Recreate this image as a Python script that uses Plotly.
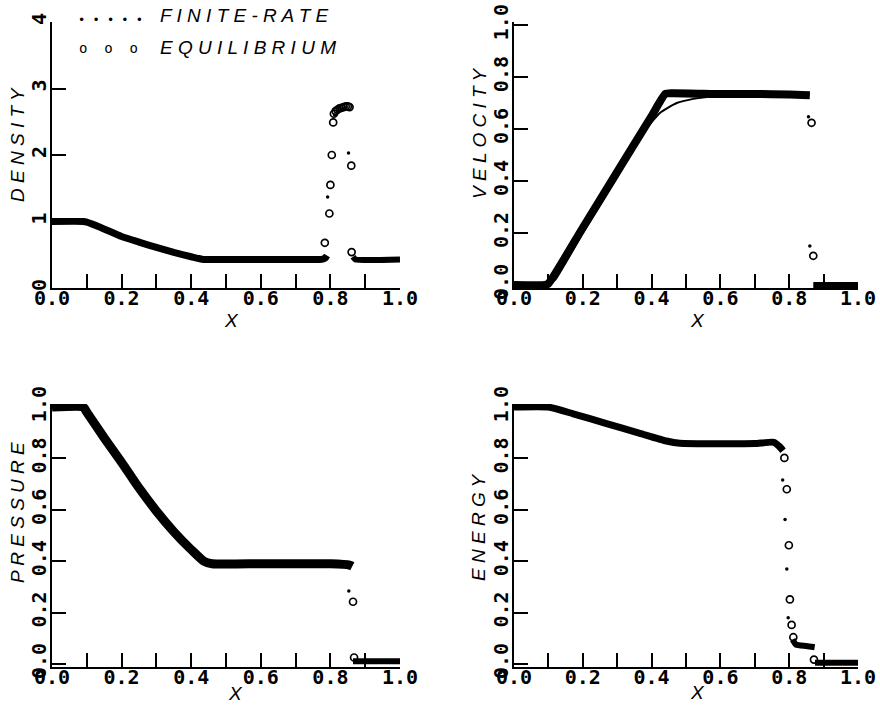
import plotly.graph_objects as go

# ---------------- data ----------------
# DENSITY
dens_band_x = [0.0, 0.09, 0.10, 0.14, 0.20, 0.25, 0.30, 0.35, 0.40, 0.435, 0.50, 0.60, 0.70, 0.775, 0.785, 0.79]
dens_band_y = [1.0, 1.0, 0.99, 0.91, 0.775, 0.69, 0.61, 0.535, 0.47, 0.43, 0.43, 0.43, 0.43, 0.43, 0.45, 0.49]
dens_post_x = [0.865, 0.872, 1.0]
dens_post_y = [0.47, 0.43, 0.43]
dens_eq_x = [0.784, 0.797, 0.800, 0.804, 0.808, 0.810, 0.815, 0.820, 0.826, 0.832, 0.838, 0.844, 0.850, 0.855, 0.860, 0.861]
dens_eq_y = [0.68, 1.12, 1.55, 2.00, 2.49, 2.62, 2.66, 2.68, 2.70, 2.71, 2.72, 2.73, 2.73, 2.72, 1.84, 0.54]
dens_fr_x = [0.792, 0.812, 0.820, 0.830, 0.840, 0.852]
dens_fr_y = [1.37, 2.60, 2.66, 2.69, 2.70, 2.03]

# VELOCITY
vel_band_x = [0.0, 0.09, 0.10, 0.20, 0.30, 0.40, 0.44, 0.46, 0.60, 0.70, 0.80, 0.86]
vel_band_y = [0.0, 0.0, 0.005, 0.22, 0.435, 0.65, 0.735, 0.738, 0.735, 0.735, 0.733, 0.73]
vel_fr_line_x = [0.10, 0.12, 0.20, 0.30, 0.376, 0.424, 0.473, 0.521, 0.57, 0.62, 0.86]
vel_fr_line_y = [0.0, 0.02, 0.20, 0.415, 0.586, 0.662, 0.70, 0.716, 0.725, 0.733, 0.733]
vel_post_x = [0.87, 1.0]
vel_post_y = [0.0, 0.0]
vel_eq_x = [0.865, 0.870]
vel_eq_y = [0.624, 0.112]
vel_fr_x = [0.856, 0.860]
vel_fr_y = [0.647, 0.150]

# PRESSURE
pres_band_x = [0.0, 0.09, 0.10, 0.15, 0.20, 0.25, 0.30, 0.35, 0.40, 0.436, 0.46, 0.60, 0.80, 0.855, 0.863]
pres_band_y = [1.0, 1.0, 0.98, 0.88, 0.785, 0.685, 0.595, 0.515, 0.445, 0.40, 0.39, 0.39, 0.39, 0.385, 0.38]
pres_post_x = [0.865, 1.0]
pres_post_y = [0.01, 0.01]
pres_eq_x = [0.865, 0.868]
pres_eq_y = [0.242, 0.025]
pres_fr_x = [0.853]
pres_fr_y = [0.284]

# ENERGY
ener_band_x = [0.0, 0.10, 0.172, 0.269, 0.366, 0.443, 0.482, 0.60, 0.70, 0.755, 0.772, 0.782]
ener_band_y = [1.0, 1.0, 0.974, 0.936, 0.898, 0.868, 0.859, 0.857, 0.858, 0.863, 0.846, 0.83]
ener_mid_x = [0.81, 0.82, 0.85, 0.874]
ener_mid_y = [0.095, 0.075, 0.07, 0.065]
ener_post_x = [0.875, 1.0]
ener_post_y = [0.005, 0.005]
ener_eq_x = [0.786, 0.793, 0.799, 0.802, 0.807, 0.812, 0.872]
ener_eq_y = [0.802, 0.68, 0.462, 0.251, 0.152, 0.104, 0.017]
ener_fr_x = [0.781, 0.788, 0.793, 0.797]
ener_fr_y = [0.716, 0.562, 0.37, 0.18]

# ticks / labels
x_ticks = [0.0, 0.1, 0.2, 0.3, 0.4, 0.5, 0.6, 0.7, 0.8, 0.9, 1.0]
x_tick_labels = ["0.0", "", "0.2", "", "0.4", "", "0.6", "", "0.8", "", "1.0"]
dens_ticks = [0, 1, 2, 3, 4]
dens_tick_labels = ["0", "1", "2", "3", "4"]
unit_ticks = [0.0, 0.2, 0.4, 0.6, 0.8, 1.0]
unit_tick_labels = ["0.0", "0.2", "0.4", "0.6", "0.8", "1.0"]
y_titles = ["DENSITY", "VELOCITY", "PRESSURE", "ENERGY"]
x_title = "X"
legend_labels = ["FINITE-RATE", "EQUILIBRIUM"]

# ---------------- figure ----------------
W, H = 880, 706
fig = go.Figure()

BLACK = "black"


def add_panel(n, bands, eq, fr, thin=None):
    xa = "x" if n == 1 else f"x{n}"
    ya = "y" if n == 1 else f"y{n}"
    for (bx, by, w) in bands:
        fig.add_trace(go.Scatter(x=bx, y=by, mode="lines", xaxis=xa, yaxis=ya,
                                 line=dict(color=BLACK, width=w, shape="spline",
                                           smoothing=0.5),
                                 showlegend=False, hoverinfo="skip"))
    if thin is not None:
        fig.add_trace(go.Scatter(x=thin[0], y=thin[1], mode="lines", xaxis=xa, yaxis=ya,
                                 line=dict(color=BLACK, width=2, shape="spline",
                                           smoothing=0.5),
                                 showlegend=False, hoverinfo="skip"))
    fig.add_trace(go.Scatter(x=eq[0], y=eq[1], mode="markers", xaxis=xa, yaxis=ya,
                             marker=dict(symbol="circle-open", size=7, color=BLACK,
                                         line=dict(width=1.7, color=BLACK)),
                             showlegend=False, cliponaxis=False, hoverinfo="skip"))
    fig.add_trace(go.Scatter(x=fr[0], y=fr[1], mode="markers", xaxis=xa, yaxis=ya,
                             marker=dict(symbol="circle", size=3.5, color=BLACK),
                             showlegend=False, cliponaxis=False, hoverinfo="skip"))


add_panel(1, [(dens_band_x, dens_band_y, 7), (dens_post_x, dens_post_y, 6)],
          (dens_eq_x, dens_eq_y), (dens_fr_x, dens_fr_y))
add_panel(2, [(vel_band_x, vel_band_y, 8), (vel_post_x, vel_post_y, 6)],
          (vel_eq_x, vel_eq_y), (vel_fr_x, vel_fr_y), thin=(vel_fr_line_x, vel_fr_line_y))
add_panel(3, [(pres_band_x, pres_band_y, 9), (pres_post_x, pres_post_y, 6)],
          (pres_eq_x, pres_eq_y), (pres_fr_x, pres_fr_y))
add_panel(4, [(ener_band_x, ener_band_y, 7), (ener_mid_x, ener_mid_y, 6),
              (ener_post_x, ener_post_y, 6)],
          (ener_eq_x, ener_eq_y), (ener_fr_x, ener_fr_y))

tick_font = dict(family="DejaVu Sans Mono", size=20, color=BLACK, weight="bold")


def px_x(a, b):
    return [a / W, b / W]


def px_y(bottom, top):
    return [(H - bottom) / H, (H - top) / H]


left_dom = px_x(52, 400)
right_dom = px_x(514, 858)
top_dom = px_y(288, 22)
bot_dom = px_y(667, 404)

common_x = dict(range=[0, 1.0], tickvals=x_ticks, ticktext=x_tick_labels, ticks="inside",
                ticklen=14, tickwidth=2, tickcolor=BLACK, showline=True, linewidth=2,
                linecolor=BLACK, showgrid=False, zeroline=False, tickfont=tick_font,
                mirror=False, automargin=False, ticklabelstandoff=-9,
                ticklabeloverflow="allow")
common_y = dict(ticks="inside", ticklen=14, tickwidth=2, tickcolor=BLACK, showline=True,
                linewidth=2, linecolor=BLACK, showgrid=False, zeroline=False,
                tickfont=tick_font, tickangle=-90, automargin=False, ticklabelstandoff=-4,
                ticklabeloverflow="allow")

fig.update_layout(
    width=W, height=H,
    margin=dict(l=0, r=0, t=0, b=0, pad=0, autoexpand=False),
    paper_bgcolor="white", plot_bgcolor="white",
    showlegend=False,
    xaxis=dict(domain=left_dom, anchor="y", **common_x),
    yaxis=dict(domain=top_dom, anchor="x", range=[0, 4.0], tickvals=dens_ticks,
               ticktext=dens_tick_labels, **common_y),
    xaxis2=dict(domain=right_dom, anchor="y2", **common_x),
    yaxis2=dict(domain=top_dom, anchor="x2", range=[-0.012, 1.012], tickvals=unit_ticks,
                ticktext=unit_tick_labels, **common_y),
    xaxis3=dict(domain=left_dom, anchor="y3", **common_x),
    yaxis3=dict(domain=bot_dom, anchor="x3", range=[-0.012, 1.012], tickvals=unit_ticks,
                ticktext=unit_tick_labels, **common_y),
    xaxis4=dict(domain=right_dom, anchor="y4", **common_x),
    yaxis4=dict(domain=bot_dom, anchor="x4", range=[-0.012, 1.012], tickvals=unit_ticks,
                ticktext=unit_tick_labels, **common_y),
)

title_font = dict(family="Liberation Sans", size=19, color=BLACK, style="italic")


def spaced(s):
    return " ".join(list(s))


def ann(text, px, py, font, angle=0, xanchor="center"):
    fig.add_annotation(text=text, x=px / W, y=1 - py / H, xref="paper",
                       yref="paper", showarrow=False, textangle=angle, font=font,
                       xanchor=xanchor, yanchor="middle")


# y-axis titles
ann(spaced(y_titles[0]), 17, 145, title_font, angle=-90)
ann(spaced(y_titles[1]), 479, 133, title_font, angle=-90)
ann(spaced(y_titles[2]), 17, 513, title_font, angle=-90)
ann(spaced(y_titles[3]), 478, 527, title_font, angle=-90)
# x-axis titles
ann(x_title, 232, 320, title_font)
ann(x_title, 697, 320, title_font)
ann(x_title, 235, 693, title_font)
ann(x_title, 697, 692, title_font)

# legend (drawn as text in the density panel)
ann("• • • • •", 110, 20, dict(family="DejaVu Sans Mono", size=12, color=BLACK))
ann("o  o  o", 108, 48, dict(family="DejaVu Sans Mono", size=14, color=BLACK))
ann(spaced(legend_labels[0]), 158, 16, title_font, xanchor="left")
ann(spaced(legend_labels[1]), 158, 48, title_font, xanchor="left")

# remove the browser's default page margin so the figure sits at the window origin
fig.write_html("out.html", config={"displayModeBar": False},
               post_script="document.body.style.margin='0px';")
